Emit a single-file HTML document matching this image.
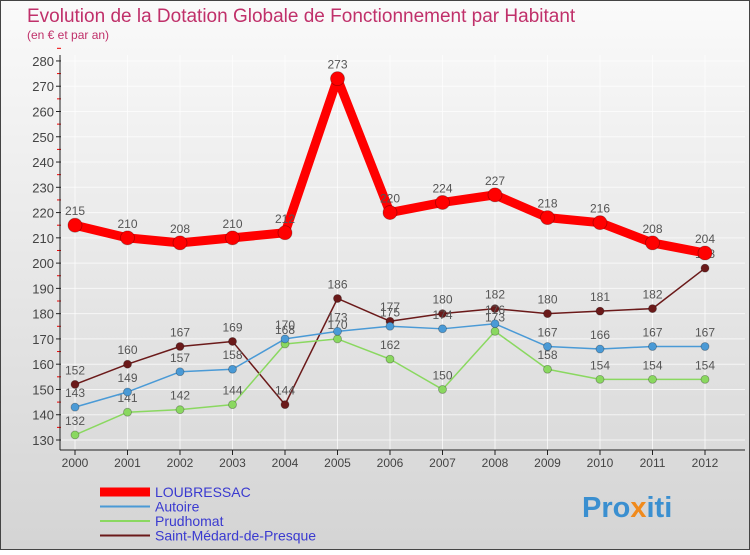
<!DOCTYPE html>
<html><head><meta charset="utf-8"><style>
body{margin:0;width:750px;height:550px;overflow:hidden;font-family:"Liberation Sans",sans-serif}
</style></head><body>
<svg width="750" height="550" xmlns="http://www.w3.org/2000/svg">
<defs><linearGradient id="bg" x1="0" y1="0" x2="0" y2="1"><stop offset="0" stop-color="#fafafa"/><stop offset="1" stop-color="#d4d4d4"/></linearGradient></defs>
<rect x="0.5" y="0.5" width="749" height="549" fill="url(#bg)" stroke="#444"/>
<text x="27" y="22" font-size="19" fill="#c0306a">Evolution de la Dotation Globale de Fonctionnement par Habitant</text>
<text x="27" y="39" font-size="12" fill="#c0306a">(en € et par an)</text>
<g id="grid"></g><g id="axes"></g><g id="series"></g><g id="legend"></g>
<text x="582" y="517" font-size="29" font-weight="bold" fill="#3a8fd0">Pro<tspan fill="#f08a1c">x</tspan>iti</text>
</svg>
<script>
const years=[2000,2001,2002,2003,2004,2005,2006,2007,2008,2009,2010,2011,2012];
const yTicks=[130,140,150,160,170,180,190,200,210,220,230,240,250,260,270,280];
const loubressac=[215,210,208,210,212,273,220,224,227,218,216,208,204];
const autoire=[143,149,157,158,170,173,175,174,176,167,166,167,167];
const prudhomat=[132,141,142,144,168,170,162,150,173,158,154,154,154];
const stMedard=[152,160,167,169,144,186,177,180,182,180,181,182,198];
const NS="http://www.w3.org/2000/svg";
const x=i=>75+i*52.5;
const y=v=>440-(v-130)*2.527;
function mk(tag,attrs,parent){const e=document.createElementNS(NS,tag);for(const k in attrs)e.setAttribute(k,attrs[k]);parent.appendChild(e);return e;}
const grid=document.getElementById('grid'),axes=document.getElementById('axes'),ser=document.getElementById('series'),leg=document.getElementById('legend');
yTicks.forEach(v=>{
 const l=mk('line',{x1:60,x2:745,y1:y(v),y2:y(v),stroke:'#fff','stroke-width':1,opacity:0.7},grid);
 
 
 const t=mk('line',{x1:56,x2:61,y1:y(v),y2:y(v),stroke:'#222'},axes);
 
 
 const m=mk('line',{x1:57,x2:61,y1:y(v+5),y2:y(v+5),stroke:'#e00'},axes);
 
 
 const tx=mk('text',{x:54,y:y(v)+5,'text-anchor':'end','font-size':13,fill:'#444'},axes);tx.textContent=v;
 
 
});
years.forEach((yr,i)=>{
 const g=mk('line',{x1:x(i),x2:x(i),y1:55,y2:450,stroke:'#fff',opacity:0.7},grid);
 
 
 const t=mk('line',{x1:x(i),x2:x(i),y1:450,y2:455,stroke:'#222'},axes);
 
 
 const tx=mk('text',{x:x(i),y:467,'text-anchor':'middle','font-size':12,fill:'#444'},axes);tx.textContent=yr;
 
 
});
const ya=mk('line',{x1:60,x2:60,y1:55,y2:450,stroke:'#222'},axes);


const xa=mk('line',{x1:60,x2:745,y1:450,y2:450,stroke:'#222'},axes);


const series=[
 {name:'Saint-Médard-de-Presque',d:stMedard,c:'#6b1a1a',w:1.5,r:4},
 {name:'Prudhomat',d:prudhomat,c:'#8ad860',w:1.5,r:4},
 {name:'Autoire',d:autoire,c:'#4a9ad6',w:1.5,r:4},
 {name:'LOUBRESSAC',d:loubressac,c:'#ff0000',w:9,r:7}
];
series.forEach(s=>{
 const g=mk('g',{},ser);
 
 
 const p=mk('polyline',{points:s.d.map((v,i)=>x(i)+','+y(v)).join(' '),fill:'none',stroke:s.c,'stroke-width':s.w,'stroke-linejoin':'round'},g);
 
 
 s.d.forEach((v,i)=>{
  const c=mk('circle',{cx:x(i),cy:y(v),r:s.r,fill:s.c,stroke:'rgba(0,0,0,0.3)','stroke-width':0.8},g);
  
  
  const t=mk('text',{x:x(i),y:y(v)-10,'text-anchor':'middle','font-size':12,fill:'#555'},g);t.textContent=v;
  
  
 });
});
const legItems=[['LOUBRESSAC','#ff0000',9],['Autoire','#4a9ad6',2],['Prudhomat','#8ad860',2],['Saint-Médard-de-Presque','#6b1a1a',2]];
legItems.forEach((it,i)=>{
 const yy=492+i*14.5;
 const l=mk('line',{x1:100,x2:150,y1:yy,y2:yy,stroke:it[1],'stroke-width':it[2]},leg);
 
 
 const t=mk('text',{x:155,y:yy+5,'font-size':14,fill:'#3a3ad0'},leg);t.textContent=it[0];
 
 
});
</script>
</body></html>
